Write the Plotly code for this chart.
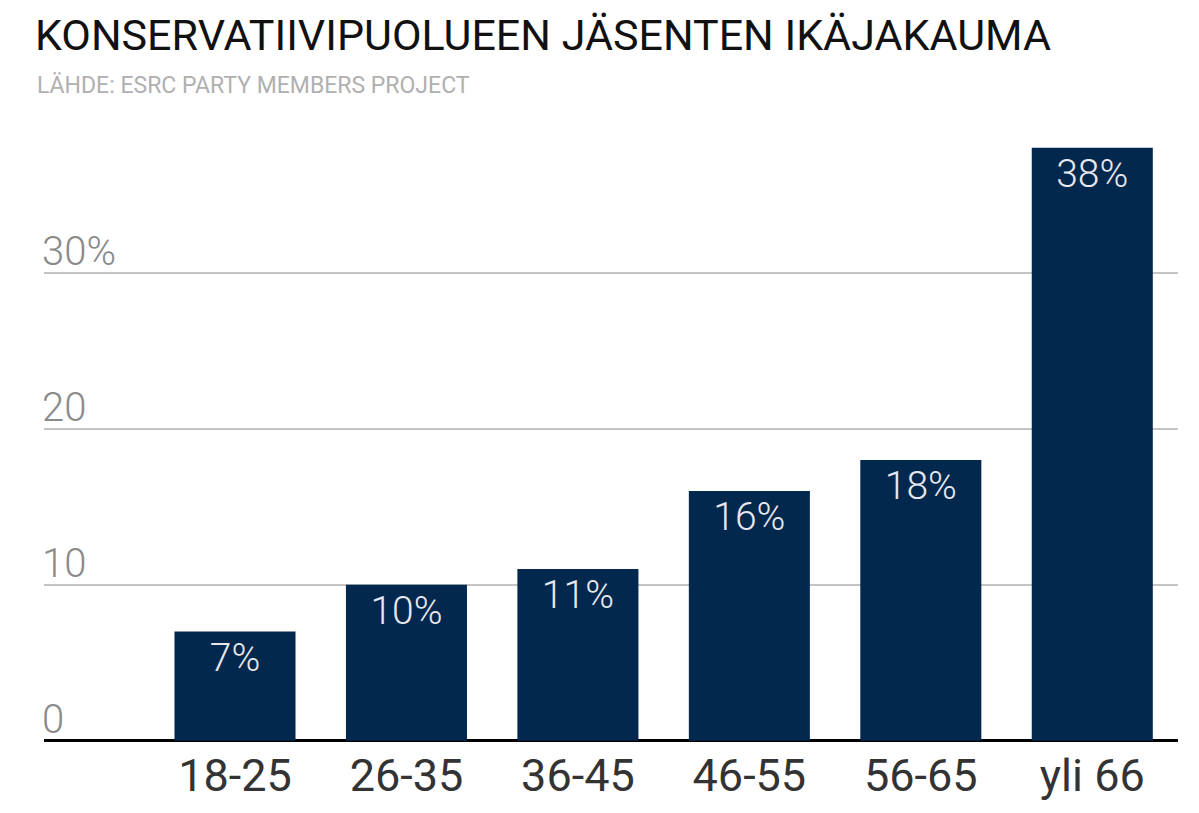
import plotly.graph_objects as go

ages = ["18-25", "26-35", "36-45", "46-55", "56-65", "yli 66"]
shares = [7, 10, 11, 16, 18, 38]
ytick_vals = [0, 10, 20, 30]
ytick_text = ["0", "10", "20", "30%"]

NAVY = "#03284e"
OFF = 8  # default page margin of the html body

fig = go.Figure()
fig.add_bar(
    x=list(range(len(ages))), y=shares,
    marker=dict(color=NAVY, line=dict(width=0)),
    texttemplate="%{y}%", textposition="inside", insidetextanchor="end",
    textfont=dict(family="Roboto", size=39, color="#e8e8ee", weight=300),
    hoverinfo="skip", width=0.706,
)

fig.add_annotation(
    text="LÄHDE: ESRC PARTY MEMBERS PROJECT",
    xref="paper", yref="paper", x=-9 / 1134, y=1 + 70 / 607,
    xanchor="left", yanchor="top", showarrow=False,
    font=dict(family="Roboto", size=23, color="#b0b0b0"),
)

fig.update_layout(
    width=1199, height=813,
    margin=dict(l=44 - OFF, r=21 + OFF, t=140 - OFF, b=66 + OFF,
                autoexpand=False),
    paper_bgcolor="white", plot_bgcolor="white",
    showlegend=False,
    title=dict(
        text="KONSERVATIIVIPUOLUEEN JÄSENTEN IKÄJAKAUMA",
        font=dict(family="Roboto", size=43, color="#111111"),
        xref="container", x=(35 - OFF) / 1199, xanchor="left",
        yref="container", y=1 - 12 / 813, yanchor="top",
    ),
    xaxis=dict(
        range=[-1.114, 5.5], tickvals=list(range(len(ages))), ticktext=ages,
        tickfont=dict(family="Roboto", size=45, color="#333333"),
        showgrid=False, zeroline=False, showline=False,
        ticks="", ticklabelstandoff=-2,
    ),
    yaxis=dict(
        range=[-0.4, 38.5], tickvals=ytick_vals, ticktext=ytick_text,
        ticklabelposition="inside top", ticklabelstandoff=-5,
        ticklabelshift=6,
        tickfont=dict(family="Roboto", size=40, color="#8a8a8a", weight=300),
        showgrid=True, gridcolor="#c4c4c4", gridwidth=2,
        zeroline=True, zerolinecolor="black", zerolinewidth=3,
        showline=False, ticks="",
    ),
)

fig.write_html("out.html")
